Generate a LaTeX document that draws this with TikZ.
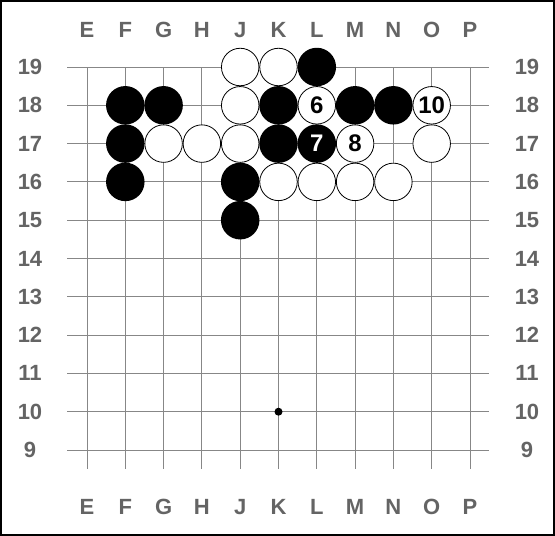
\documentclass[tikz,border=0pt]{standalone}
\usepackage{fontspec}
\setmainfont{Liberation Sans}
\usepackage{xcolor}
\usepackage{tikz}
\usetikzlibrary{positioning}

\definecolor{gridgray}{RGB}{135,135,135}
\definecolor{labelgray}{RGB}{100,100,100}
\newcommand\labelfont{\bfseries\fontsize{22pt}{22pt}\selectfont}
\newcommand\stonefont{\bfseries\fontsize{24pt}{24pt}\selectfont}

\begin{document}
\begin{tikzpicture}[x=1pt,y=-1pt,
  gridline/.style={draw=gridgray,line width=0.9pt},
  blackstone/.style={circle,fill=black,minimum size=38.5pt,inner sep=0pt,text=white,font=\stonefont},
  whitestone/.style={circle,draw=black,line width=0.8pt,fill=white,minimum size=37.5pt,inner sep=0pt,font=\stonefont},
  coordlabel/.style={text=labelgray,font=\labelfont}]
  \useasboundingbox (0,0) rectangle (555,536);
  \draw[line width=2pt] (1,1) rectangle (554,535);
  % board points
  \foreach \c [count=\i from 0] in {E,F,G,H,J,K,L,M,N,O,P}{
    \foreach \r in {9,...,19}{
      \coordinate (\c\r) at ({87+38.3*\i},{67+38.3*(19-\r)});
    }
  }
  % grid
  \foreach \c in {E,F,G,H,J,K,L,M,N,O,P}{
    \draw[gridline] (\c19) -- ++(0,402);
  }
  \foreach \r in {9,...,19}{
    \draw[gridline] (E\r) ++(-20,0) -- ++(422,0);
  }
  \fill (K10) circle (4pt);
  % coordinates
  \foreach \c [count=\i from 0] in {E,F,G,H,J,K,L,M,N,O,P}{
    \node[coordlabel] (top\c) at ({87+38.3*\i},30) {\c};
    \node[coordlabel] (bot\c) at ({87+38.3*\i},507) {\c};
  }
  \foreach \r in {9,...,19}{
    \node[coordlabel] (left\r) at (30,{67+38.3*(19-\r)}) {\r};
    \node[coordlabel] (right\r) at (527,{67+38.3*(19-\r)}) {\r};
  }
  % stones
  \foreach \p in {L19,F18,G18,K18,M18,N18,F17,K17,F16,J16,J15}{
    \node[blackstone] (s\p) at (\p) {};
  }
  \foreach \p in {J19,K19,J18,G17,H17,J17,O17,K16,L16,M16,N16}{
    \node[whitestone] (s\p) at (\p) {};
  }
  \node[whitestone] (sL18) at (L18) {6};
  \node[blackstone] (sL17) at (L17) {7};
  \node[whitestone] (sM17) at (M17) {8};
  \node[whitestone] (sO18) at (O18) {10};
\end{tikzpicture}
\end{document}
